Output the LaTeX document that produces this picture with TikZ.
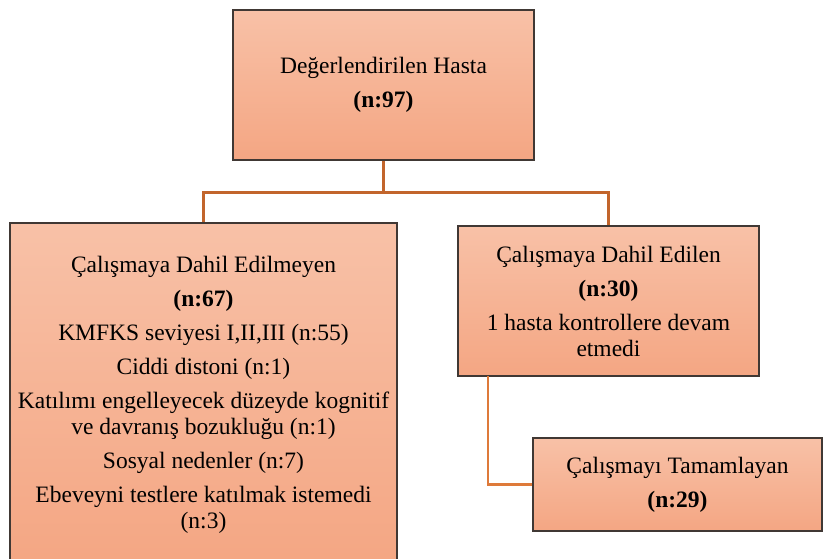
\documentclass[tikz,border=0pt]{standalone}
\usepackage{fontspec}
\setmainfont{Liberation Serif}[Ligatures=TeX]
\newfontfamily\boxfont{Liberation Serif}
\definecolor{boxtop}{RGB}{248,193,167}
\definecolor{boxbot}{RGB}{244,166,131}
\definecolor{boxline}{RGB}{64,56,52}
\definecolor{linkcol}{RGB}{194,101,44}
\definecolor{linkcoltwo}{RGB}{222,122,58}
\tikzset{
  flowbox/.style={draw=boxline,line width=1.1pt,top color=boxtop,bottom color=boxbot,
    align=center,inner sep=0pt,font=\boxfont\fontsize{23.5}{26}\selectfont},
  link/.style={draw=linkcol,line width=2.2pt}
}
\begin{document}
\begin{tikzpicture}[x=1pt,y=-1pt]
\useasboundingbox (0,0) rectangle (823,558);
% Evaluated patients
\node[flowbox,minimum width=301,minimum height=150] (eval) at (383.5,85)
  {Değerlendirilen Hasta\\[8pt]\textbf{(n:97)}};
% Not included
\node[flowbox,minimum width=387,minimum height=344] (excl) at (203.5,395)
  {Çalışmaya Dahil Edilmeyen\\[8pt]\textbf{(n:67)}\\[8pt]KMFKS seviyesi I,II,III (n:55)\\[8pt]
   Ciddi distoni (n:1)\\[8pt]Katılımı engelleyecek düzeyde kognitif\\ve davranış bozukluğu (n:1)\\[8pt]
   Sosyal nedenler (n:7)\\[8pt]Ebeveyni testlere katılmak istemedi\\(n:3)};
% Included
\node[flowbox,minimum width=301,minimum height=150] (incl) at (608.5,301)
  {Çalışmaya Dahil Edilen\\[8pt]\textbf{(n:30)}\\[8pt]1 hasta kontrollere devam\\etmedi};
% Completed
\node[flowbox,minimum width=289,minimum height=93] (comp) at (677.5,484.5)
  {Çalışmayı Tamamlayan\\[8pt]\textbf{(n:29)}};
% connectors
\coordinate (split) at (383.5,192.5);
\coordinate (drop) at (488,376);
\draw[link] (eval.south) -- (split) -| (excl.north);
\draw[link] (split) -| (incl.north);
\draw[link,draw=linkcoltwo] (drop) |- (comp.west);
\end{tikzpicture}
\end{document}
